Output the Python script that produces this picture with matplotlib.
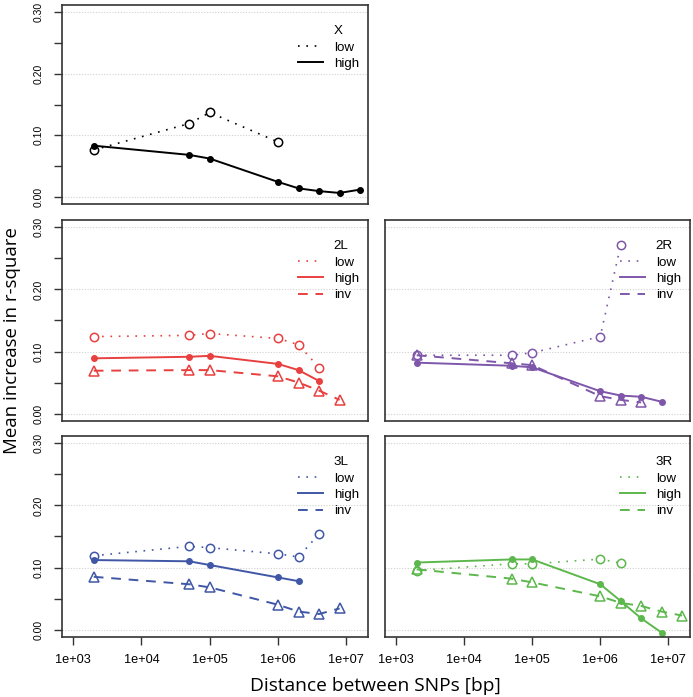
import numpy as np
import matplotlib
matplotlib.use("Agg")
import matplotlib.pyplot as plt
from matplotlib.lines import Line2D

plt.rcParams['font.family'] = ['Liberation Sans', 'DejaVu Sans']

# distances between SNPs (bp)
dist = [2e3, 5e4, 1e5, 1e6, 2e6, 4e6, 8e6, 1.6e7]

# mean increase in r-square, per chromosome arm
x_low = [0.076, 0.119, 0.137, 0.089]
x_high = [0.083, 0.068, 0.062, 0.024, 0.0135, 0.009, 0.006, 0.0115]

l2_low = [0.124, 0.126, 0.129, 0.121, 0.111, 0.074]
l2_high = [0.089, 0.0915, 0.093, 0.080, 0.070, 0.0525]
l2_inv = [0.069, 0.070, 0.070, 0.060, 0.050, 0.037, 0.022]

r2_low = [0.094, 0.094, 0.098, 0.124, 0.272]
r2_high = [0.082, 0.077, 0.0745, 0.036, 0.029, 0.027, 0.019]
r2_inv = [0.094, 0.081, 0.078, 0.028, 0.022, 0.018]

l3_low = [0.119, 0.134, 0.132, 0.122, 0.117, 0.154]
l3_high = [0.112, 0.110, 0.104, 0.084, 0.078]
l3_inv = [0.085, 0.073, 0.068, 0.040, 0.029, 0.025, 0.034]

r3_low = [0.095, 0.106, 0.106, 0.1135, 0.107]
r3_high = [0.108, 0.113, 0.113, 0.073, 0.046, 0.018, -0.005]
r3_inv = [0.097, 0.082, 0.076, 0.0535, 0.043, 0.038, 0.029, 0.0225]

xticks = [1e3, 1e4, 1e5, 1e6, 1e7]
xticklabels = ['1e+03', '1e+04', '1e+05', '1e+06', '1e+07']
yticks = [0.0, 0.1, 0.2, 0.3]

panels = [
    # name, colour, low, high, inv, position [l, b, w, h], left axis, bottom axis
    ('X', 'black', x_low, x_high, None, [0.0895, 0.7073, 0.4416, 0.2855], True, False),
    ('2L', '#e8403f', l2_low, l2_high, l2_inv, [0.0895, 0.396, 0.4416, 0.2884], True, False),
    ('2R', '#7e57aa', r2_low, r2_high, r2_inv, [0.5556, 0.396, 0.4401, 0.2884], False, False),
    ('3L', '#3f57a6', l3_low, l3_high, l3_inv, [0.0895, 0.0861, 0.4416, 0.2884], True, True),
    ('3R', '#5cb84c', r3_low, r3_high, r3_inv, [0.5556, 0.0861, 0.4401, 0.2884], False, True),
]

dotted = (0, (1, 4))
dashed = (0, (5, 4))

fig = plt.figure(figsize=(6.93, 6.97), dpi=100)

for name, col, low, high, inv, pos, left, bottom in panels:
    ax = fig.add_axes(pos)
    ax.set_xscale('log')

    for y in yticks:
        ax.axhline(y, color='#d0d0d0', lw=0.8, ls=(0, (1, 1.5)), zorder=0)

    ax.plot(dist[:len(low)], low, color=col, ls=dotted, lw=1.2,
            marker='o', ms=6, mfc='white', mec=col, mew=1.1)
    ax.plot(dist[:len(high)], high, color=col, ls='-', lw=1.4,
            marker='o', ms=4, mfc=col, mec=col)
    if inv is not None:
        ax.plot(dist[:len(inv)], inv, color=col, ls=dashed, lw=1.4,
                marker='^', ms=7, mfc='none', mec=col, mew=1.1)

    ax.set_xlim(10 ** 2.836, 10 ** 7.32)
    ax.set_ylim(-0.012, 0.312)

    for s in ax.spines.values():
        s.set_color('#333333')
        s.set_linewidth(1.2)

    ax.minorticks_off()
    if left:
        ax.set_yticks(np.arange(0, 0.31, 0.05))
        ax.set_yticklabels(['0.00', '', '0.10', '', '0.20', '', '0.30'],
                           rotation=90, va='center', fontsize=7.5)
        ax.tick_params(axis='y', direction='out', length=6, width=1, color='#333333', pad=7)
    else:
        ax.set_yticks([])
    if bottom:
        ax.set_xticks(xticks)
        ax.set_xticklabels(xticklabels, fontsize=9.2)
        ax.tick_params(axis='x', direction='out', length=6, width=1, color='#333333', pad=6)
    else:
        ax.set_xticks([])
    ax.xaxis.set_minor_locator(matplotlib.ticker.NullLocator())

    # legend without box, title row aligned with the entry text
    handles = [Line2D([], [], color='none'),
               Line2D([], [], color=col, ls=dotted, lw=1.2),
               Line2D([], [], color=col, ls='-', lw=1.4)]
    labels = [name, 'low', 'high']
    if inv is not None:
        handles.append(Line2D([], [], color=col, ls=dashed, lw=1.4))
        labels.append('inv')
    ax.legend(handles, labels, loc='upper left', bbox_to_anchor=(0.77, 0.9),
              frameon=False, fontsize=9.6, handlelength=1.9, handletextpad=0.8,
              labelspacing=0.3, borderpad=0, borderaxespad=0)

fig.text(0.017, 0.512, 'Mean increase in r-square', rotation=90, va='center', ha='center',
         fontsize=13.4, family=['Open Sans', 'DejaVu Sans'])
fig.text(0.542, 0.016, 'Distance between SNPs [bp]', va='center', ha='center',
         fontsize=13.8, family=['Open Sans', 'DejaVu Sans'])

plt.savefig('out.png', dpi=100)
